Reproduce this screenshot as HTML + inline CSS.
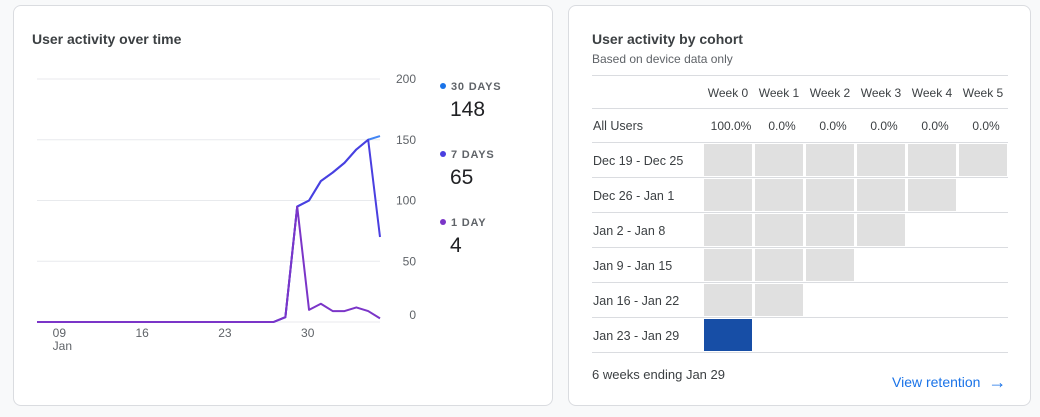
<!DOCTYPE html>
<html><head><meta charset="utf-8"><style>
*{box-sizing:border-box}
body{margin:0;width:1040px;height:417px;background:#f8f9fa;font-family:"Liberation Sans",sans-serif;position:relative;overflow:hidden;color:#202124}
.card{position:absolute;background:#fff;border:1px solid #dadce0;border-radius:8px}
.t{position:absolute;white-space:nowrap}
</style></head><body>
<div class="card" style="left:13px;top:5px;width:540px;height:401px"></div>
<div class="card" style="left:568px;top:5px;width:463px;height:401px"></div>
<div class="t" style="left:32px;top:31px;font-size:14px;font-weight:bold;color:#3c4043">User activity over time</div>
<svg id="chart" style="position:absolute;left:0;top:0" width="560" height="417"></svg>

<div class="t" style="left:592px;top:31px;font-size:14px;font-weight:bold;color:#3c4043">User activity by cohort</div>
<div class="t" style="left:592px;top:52px;font-size:12px;color:#5f6368">Based on device data only</div>
<svg id="cohort" style="position:absolute;left:0;top:0" width="1040" height="417"></svg>
<div class="t" style="left:592px;top:367px;font-size:13px;color:#3c4043">6 weeks ending Jan 29</div>
<div class="t" style="left:892px;top:371px;font-size:14px;color:#1a73e8">View retention <span style="font-size:18px;margin-left:4px;position:relative;top:1px">→</span></div>

<script>
const NS="http://www.w3.org/2000/svg";
const days=["07","08","09","10","11","12","13","14","15","16","17","18","19","20","21","22","23","24","25","26","27","28","29","30","31","01","02","03","04","05"];
const s30=[0,0,0,0,0,0,0,0,0,0,0,0,0,0,0,0,0,0,0,0,0,4,95,100,116,123,131,142,150,153];
const s7=[0,0,0,0,0,0,0,0,0,0,0,0,0,0,0,0,0,0,0,0,0,4,95,100,116,123,131,142,150,70];
const s1=[0,0,0,0,0,0,0,0,0,0,0,0,0,0,0,0,0,0,0,0,0,4,95,10,15,9,9,12,9,3];
const yTicks=[0,50,100,150,200];
const xTickIdx=[2,9,16,23];
const xTickLabels=["09","16","23","30"];
const legendNames=["30 DAYS","7 DAYS","1 DAY"];
const legendValues=["148","65","4"];
const X=i=>37+i*(343/(days.length-1));
const Y=v=>322-v*(243/200);
function mk(p,tag,a){const e=document.createElementNS(NS,tag);for(const k in a)e.setAttribute(k,a[k]);p.appendChild(e);return e;}
const svg=document.getElementById('chart');
yTicks.forEach(t=>{
 const l=mk(svg,'line',{x1:37,x2:380,y1:Y(t),y2:Y(t),stroke:'#e8eaed','stroke-width':1});
 
 
 const tx=mk(svg,'text',{x:416,y:Y(t)+(t===0?-3:4),'text-anchor':'end','font-size':12,fill:'#5f6368'});
 tx.textContent=t;
 
 
});
xTickIdx.forEach((ix,k)=>{
 const tx=mk(svg,'text',{x:X(ix)-8,y:337,'font-size':12,fill:'#5f6368'});
 tx.textContent=xTickLabels[k];
 
 
});
const jan=mk(svg,'text',{x:X(xTickIdx[0])-8,y:350,'font-size':12,fill:'#5f6368'});jan.textContent='Jan';


const series=[[s30,'#4285f4','line-30-days'],[s7,'#4a3fe0','line-7-days'],[s1,'#7b35c8','line-1-day']];
series.forEach(([d,c,n])=>{
 const p=mk(svg,'polyline',{points:d.map((v,i)=>X(i)+','+Y(v)).join(' '),fill:'none',stroke:c,'stroke-width':2,'stroke-linejoin':'round'});
 
 
});
const lc=['#1a73e8','#4a3fe0','#7b35c8'];
legendNames.forEach((nm,k)=>{
 const y0=86+k*68;
 const d=mk(svg,'circle',{cx:443,cy:y0,r:3,fill:lc[k]});
 
 
 const t=mk(svg,'text',{x:451,y:y0+4,'font-size':11,'font-weight':'bold',fill:'#5f6368','letter-spacing':'0.8'});t.textContent=nm;
 
 
 const v=mk(svg,'text',{x:450,y:y0+30,'font-size':21,fill:'#202124'});v.textContent=legendValues[k];
 
 
});

// cohort table
const weeks=["Week 0","Week 1","Week 2","Week 3","Week 4","Week 5"];
const allUsers=["100.0%","0.0%","0.0%","0.0%","0.0%","0.0%"];
const cohorts=["Dec 19 - Dec 25","Dec 26 - Jan 1","Jan 2 - Jan 8","Jan 9 - Jan 15","Jan 16 - Jan 22","Jan 23 - Jan 29"];
const cohortValues=[[0,0,0,0,0,0],[0,0,0,0,0],[0,0,0,0],[0,0,0],[0,0],[100]];
const cs=document.getElementById('cohort');
const CX=j=>704+j*51, RY=r=>144+r*35;
[75,108,142].concat(cohorts.map((c,r)=>RY(r)+33)).forEach((y,k)=>{
 const l=mk(cs,'line',{x1:592,x2:1008,y1:y+0.5,y2:y+0.5,stroke:'#dadce0','stroke-width':1});
 
 
});
weeks.forEach((w,j)=>{
 const t=mk(cs,'text',{x:CX(j)+24,y:97,'text-anchor':'middle','font-size':12,fill:'#3c4043'});t.textContent=w;
 
 
 const a=mk(cs,'text',{x:CX(j)+27,y:130,'text-anchor':'middle','font-size':12,fill:'#3c4043'});a.textContent=allUsers[j];
 
 
});
const au=mk(cs,'text',{x:593,y:130,'font-size':12.5,fill:'#3c4043'});au.textContent='All Users';


cohorts.forEach((c,r)=>{
 const t=mk(cs,'text',{x:593,y:RY(r)+21,'font-size':12.5,fill:'#3c4043'});t.textContent=c;
 
 
 cohortValues[r].forEach((v,j)=>{
  const rc=mk(cs,'rect',{x:CX(j),y:RY(r),width:48,height:32,fill:v>0?'#174ea6':'#e0e0e0'});
  
  
 });
});
</script>
</body></html>
